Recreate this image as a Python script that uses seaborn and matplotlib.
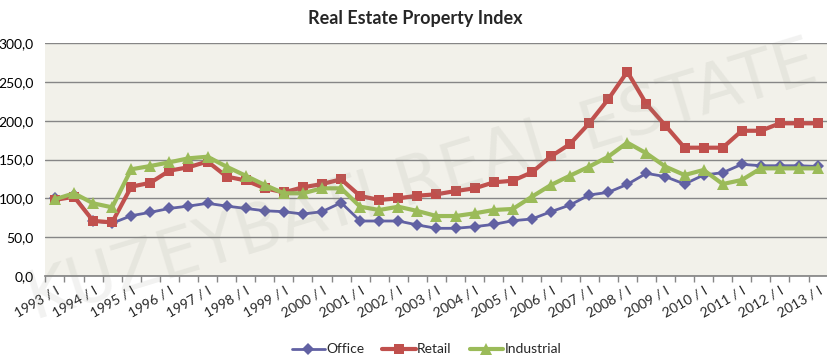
import numpy as np
import pandas as pd
import matplotlib
matplotlib.use("Agg")
import matplotlib.pyplot as plt
import seaborn as sns

# semi-annual periods 1993/I .. 2013/I
years = list(range(1993, 2014))
periods = []
for y in years:
    periods.append(f"{y} / I")
    if y < 2013:
        periods.append(f"{y} / II")

office = [100, 104, 71, 68, 77.6, 82, 87, 90, 93.6, 90, 87, 84,
          82.8, 79.8, 82.8, 94.4, 70.8, 70.8, 70.8, 65.7, 61.4, 61.4, 63.5, 66.5,
          71.2, 73.4, 82.8, 91.4, 104.3, 107.7, 118, 132.2, 127.9, 118.4, 130, 133,
          143.8, 142, 142, 142, 141]
retail = [98, 102, 71, 69, 115, 120, 135.6, 140, 147.4, 128, 123, 113,
          107.7, 114.2, 118.4, 124.5, 103, 97.9, 100, 103.4, 105.2, 109.4, 112.9, 120.6,
          122.7, 133.5, 154, 170, 196.6, 227.5, 263, 221.5, 193.6, 165.2, 165.2, 165.2,
          187, 187, 196.6, 196.6, 196.6]
industrial = [98.7, 106.5, 93.6, 88.4, 137.4, 141.6, 146.4, 151.5, 153.6, 140.7, 129.1, 117.2,
              106.5, 106.5, 112.9, 112.9, 89.2, 85, 89.2, 83.7, 77.2, 77.2, 80.7, 85,
              86.3, 102.1, 117.2, 129.2, 140.8, 153.6, 171.7, 158, 140.8, 130, 136.5, 118.4,
              123.6, 138.6, 138.6, 138.6, 138.6]

series_names = ["Office", "Retail", "Industrial"]
colors = {"Office": "#6161A3", "Retail": "#C0504D", "Industrial": "#9BBB59"}
markers = {"Office": "D", "Retail": "s", "Industrial": "^"}

idx = np.arange(len(periods))
df = pd.concat([
    pd.DataFrame({"idx": idx, "period": periods, "value": vals, "series": name})
    for name, vals in zip(series_names, [office, retail, industrial])
])

sns.set_theme(style="white")
plt.rcParams["font.family"] = ["Lato", "DejaVu Sans"]

fig = plt.figure(figsize=(8.28, 3.64), dpi=100)
ax = fig.add_axes([45 / 828, 1 - 276 / 364, 783 / 828, (276 - 43) / 364])
ax.set_facecolor("#F2F1EA")

# watermark
fig.text(0.51, 0.50, "KUZEYBATI REAL ESTATE", fontsize=48, color="#8a8a80",
         family="DejaVu Sans", alpha=0.11, rotation=17, ha="center", va="center",
         zorder=0)

for name in series_names:
    sub = df[df["series"] == name]
    lw = 2.0 if name == "Office" else 3.0
    ms = {"Office": 6, "Retail": 7.5, "Industrial": 8}[name]
    sns.lineplot(data=sub, x="idx", y="value", ax=ax, color=colors[name],
                 marker=markers[name], markersize=ms, markeredgewidth=0,
                 linewidth=lw, label=name, zorder=3)

ax.set_xlim(-0.52, len(periods) - 0.48)
ax.set_ylim(0, 300)
ax.set_yticks(np.arange(0, 301, 50))
ax.set_yticklabels([f"{v:.1f}".replace(".", ",") for v in np.arange(0, 301, 50)],
                   fontsize=10, color="#000000")
ax.yaxis.grid(True, color="#868686", linewidth=1)
ax.set_axisbelow(True)

ax.set_xticks(idx[::2])
ax.set_xticklabels(periods[::2], rotation=30, ha="right", rotation_mode="anchor",
                   fontsize=10)
ax.set_xticks(np.arange(-0.5, len(periods), 1), minor=True)
ax.tick_params(axis="x", which="major", length=0, pad=6)
ax.tick_params(axis="x", which="minor", length=4, color="#868686", width=1,
               direction="out", bottom=True)
ax.tick_params(axis="y", length=0, pad=8)

for s in ["top", "right", "left"]:
    ax.spines[s].set_visible(False)
ax.spines["bottom"].set_color("#868686")
ax.set_xlabel("")
ax.set_ylabel("")

ax.set_title("Real Estate Property Index", fontsize=13, fontweight="bold",
             x=(415 - 45) / 783, pad=14)

ax.get_legend().remove()
handles, labels = ax.get_legend_handles_labels()
fig.legend(handles, labels, loc="center", bbox_to_anchor=(0.515, 0.04), ncol=3,
           frameon=False, fontsize=10, handlelength=2.4, columnspacing=1.3,
           handletextpad=0.1)

fig.savefig("out.png", dpi=100, facecolor="white")
